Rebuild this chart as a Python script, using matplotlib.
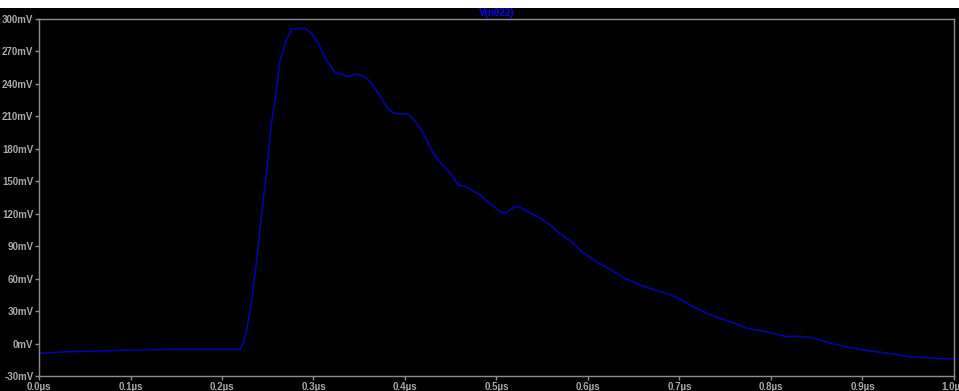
import matplotlib
matplotlib.use("Agg")
import matplotlib.pyplot as plt
from matplotlib.patches import Rectangle
import numpy as np

# transient trace V(n022), time in us, voltage in mV
time_us = [0.000, 0.030, 0.067, 0.103, 0.140, 0.176, 0.220, 0.223, 0.227, 0.2325,
           0.238, 0.243, 0.249, 0.254, 0.258, 0.263, 0.269, 0.276, 0.282, 0.291,
           0.298, 0.305, 0.314, 0.3235, 0.329, 0.338, 0.345, 0.354, 0.362, 0.371,
           0.382, 0.389, 0.402, 0.407, 0.418, 0.431, 0.440, 0.451, 0.458, 0.467,
           0.482, 0.495, 0.506, 0.511, 0.520, 0.526, 0.537, 0.546, 0.5585, 0.569,
           0.582, 0.593, 0.6095, 0.624, 0.640, 0.660, 0.671, 0.686, 0.697, 0.7115,
           0.730, 0.744, 0.759, 0.773, 0.788, 0.8025, 0.817, 0.828, 0.843, 0.854,
           0.868, 0.883, 0.901, 0.9155, 0.934, 0.952, 0.970, 0.985, 1.000]
v_mV = [-9.1, -7.6, -6.9, -6.0, -5.4, -5.4, -5.4, -0.5, 12.5, 40.2,
        77.2, 117.2, 160.4, 203.6, 225.1, 259.3, 277.8, 290.5, 291.4, 291.4,
        286.8, 277.5, 262.1, 250.4, 249.2, 246.7, 249.2, 247.6, 242.0, 231.3,
        215.9, 212.8, 212.2, 209.7, 197.4, 175.8, 165.9, 155.8, 146.5, 145.0,
        137.3, 128.0, 120.9, 120.9, 126.5, 125.9, 120.4, 116.9, 109.6, 101.9,
        94.1, 84.9, 75.6, 68.6, 60.3, 53.2, 50.1, 46.4, 42.7, 35.6,
        27.9, 23.3, 19.2, 14.1, 11.8, 9.4, 6.3, 6.9, 5.7, 3.2,
        -0.5, -3.0, -6.0, -7.6, -9.7, -12.2, -13.1, -14.1, -14.1]

y_ticks = list(range(-30, 301, 30))
x_ticks = [0.0, 0.1, 0.2, 0.3, 0.4, 0.5, 0.6, 0.7, 0.8, 0.9, 1.0]
trace_name = "V(n022)"

W, H = 959, 391
fig = plt.figure(figsize=(W / 100, H / 100), dpi=100)
fig.patch.set_facecolor("white")
# black plot window below thin white strip
fig.add_artist(Rectangle((0, 0), 1, (H - 8) / H, transform=fig.transFigure,
                         facecolor="black", edgecolor="none", zorder=0))

ax = fig.add_axes([39 / W, (H - 376) / H, (954 - 39) / W, (376 - 19) / H])
ax.set_facecolor("black")
ax.plot(time_us, v_mV, color="#0000b4", lw=1.1)

ax.set_xlim(0, 1.0)
ax.set_ylim(-30, 300)
ax.set_xticks(x_ticks)
ax.set_xticklabels(["%.1fµs" % t for t in x_ticks])
ax.set_yticks(y_ticks)
ax.set_yticklabels(["%dmV" % v for v in y_ticks])

gray = "#8c8c8c"
for s in ax.spines.values():
    s.set_color(gray)
    s.set_linewidth(1.0)
fam = ["Liberation Sans", "DejaVu Sans"]
ax.tick_params(colors=gray, length=3, width=1.0, pad=1, labelcolor="#a8a8a8")
for lab in ax.get_xticklabels() + ax.get_yticklabels():
    lab.set_fontfamily(fam)
    lab.set_fontweight("bold")
    lab.set_fontsize(7)

fig.text(497 / W, (H - 13) / H, trace_name, color="#0000ff", ha="center", va="center",
         family=fam, weight="bold", fontsize=7)

fig.savefig("out.png", dpi=100, facecolor=fig.get_facecolor())
